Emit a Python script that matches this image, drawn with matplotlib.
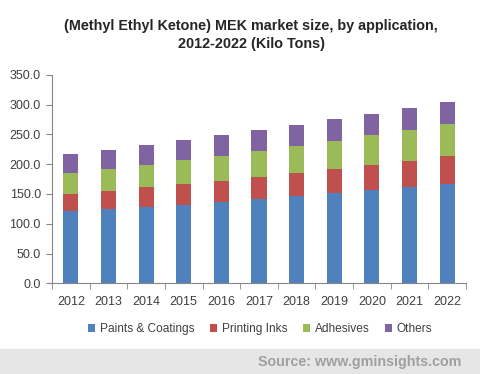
import matplotlib
matplotlib.use("Agg")
import matplotlib.pyplot as plt
import numpy as np
from matplotlib.patches import Rectangle

years = ["2012", "2013", "2014", "2015", "2016", "2017", "2018", "2019", "2020", "2021", "2022"]
paints = [120.6, 123.9, 128.0, 132.0, 137.0, 141.7, 146.7, 151.7, 156.7, 161.0, 166.7]
printing = [30.0, 31.7, 34.0, 35.0, 34.7, 37.0, 38.3, 40.0, 41.7, 44.0, 46.7]
adhesives = [35.0, 36.4, 36.0, 39.7, 41.7, 43.0, 45.0, 46.7, 50.0, 51.7, 53.3]
others = [31.0, 31.0, 33.7, 33.0, 35.0, 35.0, 35.0, 36.7, 35.0, 36.7, 36.7]
series = [("Paints & Coatings", paints, "#4f81bd"),
          ("Printing Inks", printing, "#c0504d"),
          ("Adhesives", adhesives, "#9bbb59"),
          ("Others", others, "#8064a2")]
yticks = [0, 50, 100, 150, 200, 250, 300, 350]

plt.rcParams['font.family'] = ['Liberation Sans', 'DejaVu Sans']

fig = plt.figure(figsize=(4.8, 3.74), dpi=100)
ax = fig.add_axes([52/480, 1-283.3/374, (466-52)/480, (283.3-74.7)/374])

x = np.arange(len(years))
bottom = np.zeros(len(years))
handles = []
for name, vals, col in series:
    b = ax.bar(x, vals, 0.4, bottom=bottom, color=col, label=name, zorder=3)
    handles.append(b)
    bottom += np.array(vals)

ax.set_xlim(-0.5, len(years) - 0.5)
ax.set_ylim(0, 350)
ax.set_yticks(yticks)
ax.set_yticklabels([f"{v:.1f}" for v in yticks], fontsize=9, color="#404040")
ax.set_xticks(x)
ax.set_xticklabels(years, fontsize=9, color="#404040")
ax.set_xticks(np.arange(-0.5, len(years), 1.0), minor=True)
ax.tick_params(axis='x', which='major', length=0, pad=9)
ax.tick_params(axis='x', which='minor', length=4, color="#868686", direction='out')
ax.tick_params(axis='y', length=4, color="#868686", direction='out', pad=4)
for s in ['top', 'right']:
    ax.spines[s].set_visible(False)
for s in ['left', 'bottom']:
    ax.spines[s].set_color("#868686")
    ax.spines[s].set_linewidth(0.8)

fig.text(251/480, 1-35/374, "(Methyl Ethyl Ketone) MEK market size, by application,\n2012-2022 (Kilo Tons)",
         ha='center', va='center', fontsize=10.4, fontweight='bold', color="#262626", linespacing=1.3)

leg = fig.legend(handles=handles, loc='center', bbox_to_anchor=(260/480, 1-329/374), ncol=4,
                 frameon=False, fontsize=8.6, handlelength=0.6, handleheight=0.6,
                 handletextpad=0.4, columnspacing=1.3, labelcolor="#404040")

fig.patches.append(Rectangle((0, 0), 1, 25/374, transform=fig.transFigure, color="#e6e6e6", zorder=0))
fig.text(461/480, 1-362/374, "Source: www.gminsights.com", ha='right', va='center',
         fontsize=10.3, fontweight='bold', color="#a0a0a0")

fig.savefig("out.png", dpi=100)
